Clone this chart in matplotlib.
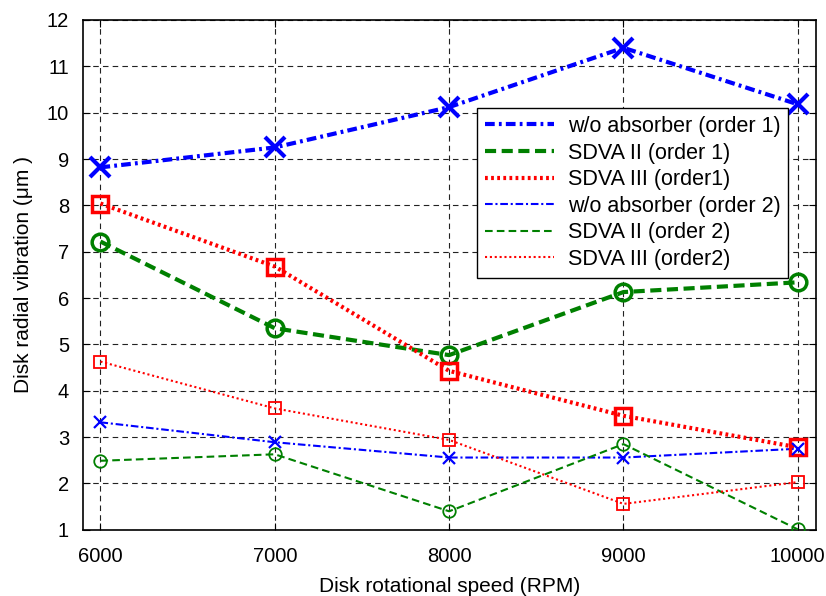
import matplotlib
matplotlib.use("Agg")
import matplotlib.pyplot as plt

plt.rcParams["font.family"] = ["Liberation Sans", "DejaVu Sans"]
plt.rcParams["lines.scale_dashes"] = False

# ── data ────────────────────────────────────────────────────────────────
rpm = [6000, 7000, 8000, 9000, 10000]

wo_order1 = [8.82, 9.25, 10.12, 11.40, 10.18]
sdva2_order1 = [7.22, 5.35, 4.77, 6.13, 6.34]
sdva3_order1 = [8.04, 6.68, 4.43, 3.46, 2.78]

wo_order2 = [3.32, 2.89, 2.56, 2.56, 2.75]
sdva2_order2 = [2.49, 2.63, 1.40, 2.85, 1.01]
sdva3_order2 = [4.63, 3.62, 2.94, 1.56, 2.03]

labels = ["w/o absorber (order 1)", "SDVA II (order 1)", "SDVA III (order1)",
          "w/o absorber (order 2)", "SDVA II (order 2)", "SDVA III (order2)"]

BLUE, GREEN, RED = "#0000ff", "#008000", "#ff0000"

fig = plt.figure(figsize=(8.26, 5.96), dpi=100)
ax = fig.add_axes([0.1005, 0.111, 0.8875, 0.8555])

series = [
    (wo_order1, BLUE, (0, (7, 3, 2, 3)), 3.0, "x", 14, 3.0),
    (sdva2_order1, GREEN, (0, (8, 4)), 3.0, "o", 12, 2.5),
    (sdva3_order1, RED, (0, (2, 2.4)), 3.0, "s", 11, 2.5),
    (wo_order2, BLUE, (0, (5.5, 2, 1.5, 2)), 1.5, "x", 8, 1.6),
    (sdva2_order2, GREEN, (0, (5.5, 3)), 1.5, "o", 9, 1.3),
    (sdva3_order2, RED, (0, (1.5, 2)), 1.5, "s", 8, 1.3),
]

for (vals, col, ls, lw, mk, ms, mew), lab in zip(series, labels):
    ax.plot(rpm, vals, color=col, linestyle=ls, linewidth=lw, label=lab, zorder=3)
    ax.plot(rpm, vals, color=col, linestyle="none", marker=mk, markersize=ms,
            markerfacecolor="none", markeredgecolor=col, markeredgewidth=mew,
            zorder=4)

ax.set_xlim(5900, 10105)
ax.set_ylim(1, 12)
ax.set_xticks(rpm)
ax.set_yticks(range(1, 13))
ax.tick_params(direction="in", length=5, width=0.8, top=True, right=True,
               labelsize=14.5)
ax.tick_params(axis="y", pad=10)
ax.tick_params(axis="x", pad=12)
ax.grid(True, color="#222222", linestyle=(0, (4, 3)), linewidth=0.8, zorder=0)
for sp in ax.spines.values():
    sp.set_linewidth(1.2)

ax.set_xlabel("Disk rotational speed (RPM)", fontsize=15, labelpad=8)
ax.set_ylabel("Disk radial vibration (\u03bcm )", fontsize=15, labelpad=10)

leg = ax.legend(loc="upper right", bbox_to_anchor=(0.962, 0.827), fontsize=15.5,
                handlelength=3.2, handletextpad=0.65, labelspacing=0.26,
                borderpad=0.36, borderaxespad=0, fancybox=False, framealpha=1,
                edgecolor="black")
leg.get_frame().set_linewidth(1.0)

fig.savefig("out.png", dpi=100)
